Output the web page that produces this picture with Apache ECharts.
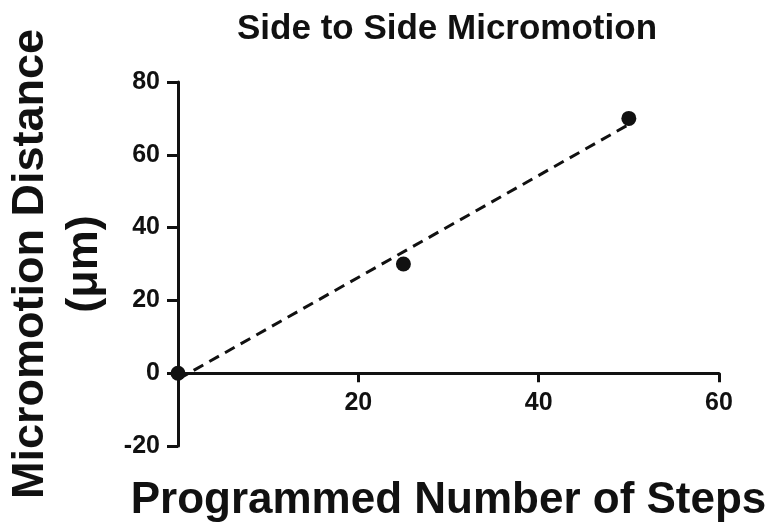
<!DOCTYPE html>
<html>
<head>
<meta charset="utf-8">
<script src="https://cdn.jsdelivr.net/npm/echarts@6/dist/echarts.min.js"></script>
<style>
html,body{margin:0;padding:0;background:#fff;}
#chart{width:775px;height:527px;}
</style>
</head>
<body>
<div id="chart"></div>
<script>
const titleText = 'Side to Side Micromotion';
const xName = 'Programmed Number of Steps';
const yName = 'Micromotion Distance\n(\u03bcm)';
const steps = [0, 25, 50];
const distance = [0, 30, 70];
const fitX = [0, 50];
const fitY = [-1.67, 68.33];

const pts = steps.map((s, i) => [s, distance[i]]);
const fit = fitX.map((s, i) => [s, fitY[i]]);
const ink = '#111111';
const font = '"Liberation Sans", Arial, sans-serif';

const chart = echarts.init(document.getElementById('chart'), null, {renderer: 'canvas'});
chart.setOption({
  backgroundColor: '#ffffff',
  animation: false,
  title: {
    text: titleText,
    left: 442, top: 7, textAlign: 'center',
    textStyle: {fontFamily: font, fontWeight: 'bold', fontSize: 35, color: ink}
  },
  grid: {left: 178, right: 56, top: 82, bottom: 81, containLabel: false, outerBoundsMode: 'none'},
  xAxis: {
    type: 'value', min: 0, max: 60, interval: 20,
    name: xName, nameLocation: 'middle', nameGap: 33,
    nameTextStyle: {fontFamily: font, fontWeight: 'bold', fontSize: 44, color: ink, verticalAlign: 'top'},
    axisLine: {onZero: true, lineStyle: {color: ink, width: 3}},
    axisTick: {show: true, length: 9, lineStyle: {color: ink, width: 3}},
    axisLabel: {
      margin: -55, fontFamily: font, fontWeight: 'bold', fontSize: 25, color: ink,
      formatter: v => (v === 0 ? '' : String(v))
    },
    splitLine: {show: false}
  },
  yAxis: {
    type: 'value', min: -20, max: 80, interval: 20,
    name: yName, nameLocation: 'middle', nameGap: 66, nameRotate: 90,
    nameTextStyle: {fontFamily: font, fontWeight: 'bold', fontSize: 45, lineHeight: 54, color: ink, align: 'center'},
    axisLine: {show: true, lineStyle: {color: ink, width: 3}},
    axisTick: {show: true, length: 11, lineStyle: {color: ink, width: 3}},
    axisLabel: {margin: 18, fontFamily: font, fontWeight: 'bold', fontSize: 25, color: ink},
    splitLine: {show: false}
  },
  series: [
    {
      type: 'line', data: fit, symbol: 'none', silent: true,
      lineStyle: {color: ink, width: 3, type: [11, 7]}, z: 2
    },
    {
      type: 'scatter', data: pts, symbol: 'circle', symbolSize: 15,
      itemStyle: {color: ink, opacity: 1}, z: 3
    }
  ]
});
</script>
</body>
</html>
